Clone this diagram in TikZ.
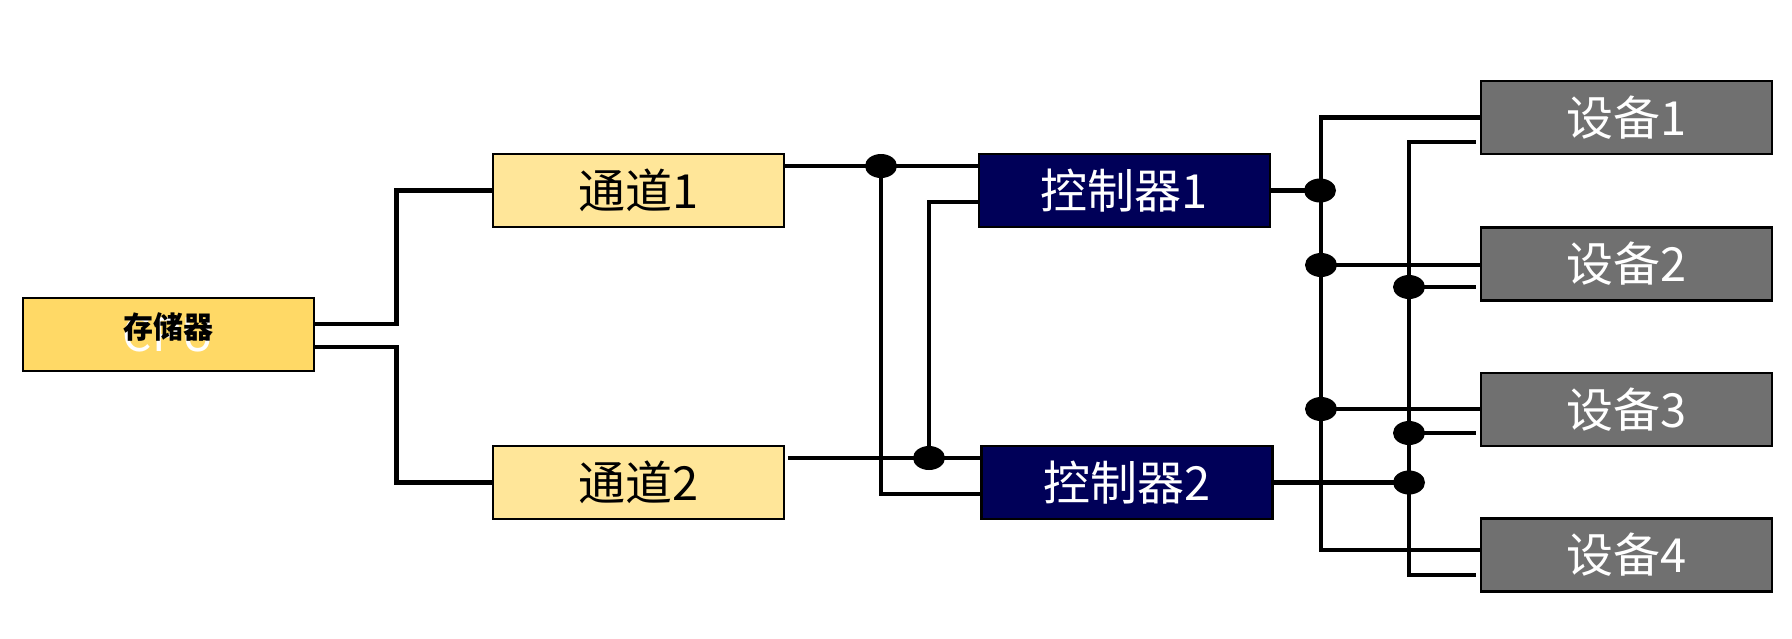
\documentclass[tikz,border=0pt]{standalone}
\usepackage{fontspec}
\usetikzlibrary{shapes.geometric,calc}
\newfontfamily\cjk{Noto Sans CJK SC}
\definecolor{storfill}{HTML}{FFD966}
\definecolor{chanfill}{HTML}{FFE699}
\definecolor{ctrlfill}{HTML}{000058}
\definecolor{devfill}{HTML}{707070}
\begin{document}
\begin{tikzpicture}[x=1pt,y=1pt,
  box/.style={draw=black, line width=2.5pt, minimum width=291pt, minimum height=73pt, inner sep=0pt, font=\cjk\fontsize{47}{52}\selectfont},
  chan/.style={box, fill=chanfill, text=black},
  ctrl/.style={box, fill=ctrlfill, text=white},
  dev/.style={box, fill=devfill, text=white},
  wire/.style={line width=4.8pt, draw=black},
  jdot/.style={ellipse, fill=black, minimum width=32pt, minimum height=24pt, inner sep=0pt}
]
\useasboundingbox (0,0) rectangle (1792,-638);
% boxes
\node[box, fill=storfill] (stor) at (168.5,-334.5) {};
\node[anchor=base, text=white, font=\cjk\fontsize{46}{50}\selectfont] (cpu) at (168.5,-351) {CPU};
\node[font=\cjk\bfseries\fontsize{30}{34}\selectfont] (storlab) at (168.5,-327) {存储器};
\node[chan] (ch1) at (638.5,-190.5) {通道1};
\node[chan] (ch2) at (638.5,-482.5) {通道2};
\node[ctrl] (c1) at (1124.5,-190.5) {控制器1};
\node[ctrl] (c2) at (1127,-482.5) {控制器2};
\node[dev] (d1) at (1626.5,-117.5) {设备1};
\node[dev] (d2) at (1626.5,-264) {设备2};
\node[dev] (d3) at (1626.5,-409.5) {设备3};
\node[dev] (d4) at (1626.5,-555) {设备4};
% junctions
\coordinate (j1) at (881,-166);
\coordinate (j2) at (929,-458);
\coordinate (j3) at (1320,-190.5);
\coordinate (j4) at (1321,-265);
\coordinate (j5) at (1321,-409);
\coordinate (j6) at (1409,-287);
\coordinate (j7) at (1409,-433);
\coordinate (j8) at (1409,-482.5);
\coordinate (lbbot) at (1321,-550);
\coordinate (rbtop) at (1409,-142);
\coordinate (rbbot) at (1409,-575);
% wires
\draw[wire] ([yshift=10.5]stor.east) -- ++(81,0) |- (ch1.west);
\draw[wire] ([yshift=-12.5]stor.east) -- ++(81,0) |- (ch2.west);
\draw[wire] (ch1.east |- j1) -- (c1.west |- j1);
\draw[wire] (j1) |- ([yshift=-11.5]c2.west);
\draw[wire] ([yshift=-11.5]c1.west) -| (j2);
\draw[wire] ([xshift=3]ch2.east |- j2) -- (c2.west |- j2);
\draw[wire] (c1.east) -- (j3);
\draw[wire] (d1.west) -| (lbbot) -- ([xshift=2]d4.west |- lbbot);
\draw[wire] (j4) -- (d2.west |- j4);
\draw[wire] (j5) -- (d3.west |- j5);
\draw[wire] ([xshift=-4]d1.west |- rbtop) -| (rbbot) -- ([xshift=-4]d4.west |- rbbot);
\draw[wire] (j6) -- ([xshift=-4]d2.west |- j6);
\draw[wire] (j7) -- ([xshift=-4]d3.west |- j7);
\draw[wire] (c2.east) -- (j8);
% dots
\foreach \j in {j1,j2,j3,j4,j5,j6,j7,j8} \node[jdot] (dot\j) at (\j) {};
\end{tikzpicture}
\end{document}
